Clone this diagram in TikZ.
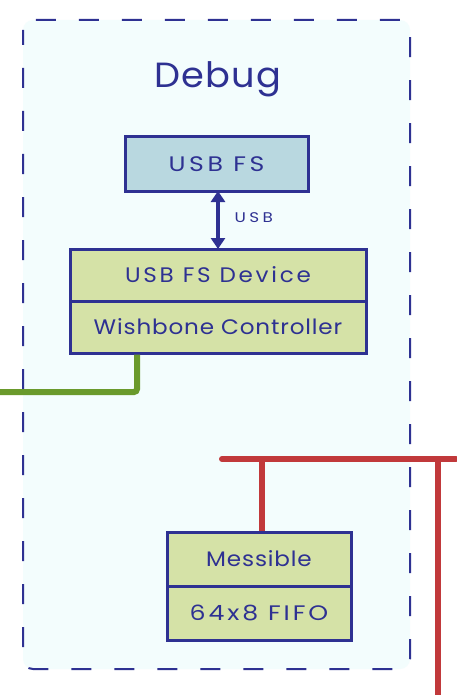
\documentclass[tikz,border=0pt]{standalone}
\usepackage{fontspec}
\setmainfont{Poppins}
\usetikzlibrary{arrows.meta}
\definecolor{navy}{HTML}{2E3192}
\definecolor{bgcyan}{HTML}{F3FDFD}
\definecolor{usbblue}{HTML}{B9D8E0}
\definecolor{blkgreen}{HTML}{D5E2A7}
\definecolor{wiregreen}{HTML}{6A9A2C}
\definecolor{wirered}{HTML}{C1393B}
\newcommand{\fsls}[2]{\addfontfeatures{FakeStretch=#1,LetterSpace=#2}}
\tikzset{
  blk/.style={draw=navy, line width=3pt, text=navy, inner sep=0pt, font=\fontsize{21}{24}\selectfont},
  greenblk/.style={blk, fill=blkgreen},
  bluewire/.style={draw=navy, line width=4pt},
  gwire/.style={draw=wiregreen, line width=6pt, rounded corners=3pt},
  rwire/.style={draw=wirered, line width=6pt},
}
\begin{document}
\begin{tikzpicture}[x=1pt,y=-1pt]
\useasboundingbox[fill=white] (0,0) rectangle (456,695);
\draw[navy, line width=2pt, fill=bgcyan, rounded corners=10pt, dash pattern=on 20pt off 23pt, dash phase=5pt] (23,20) rectangle (410,669);
\node[text=navy, font=\fontsize{35}{40}\selectfont, anchor=base] (title) at (218,88) {\fsls{1.05}{3}Debug};
\node[blk, fill=usbblue, minimum width=183pt, minimum height=54pt] (usb) at (216.5,164) {\fsls{1.2}{17}USB FS};
\node[greenblk, minimum width=296pt, minimum height=52pt] (dev) at (218,275) {\fsls{1.1}{13}USB FS Device};
\node[greenblk, minimum width=296pt, minimum height=52pt] (wb) at (218,327) {\fsls{1.1}{4}Wishbone Controller};
\draw[bluewire, {Triangle[length=11pt,width=14pt]}-{Triangle[length=11pt,width=14pt]}, shorten <=-1.5pt, shorten >=-1.5pt] (usb.south -| 218,0) -- (dev.north -| 218,0);
\node[text=navy, font=\fontsize{14}{16}\selectfont, anchor=west] (usblbl) at (231,218) {\fsls{1.2}{25}USB};
\node[greenblk, minimum width=184pt, minimum height=54pt] (mess) at (259,559) {\fsls{1.1}{4}Messible};
\node[greenblk, minimum width=184pt, minimum height=54pt] (fifo) at (259,613) {\fsls{1.2}{14}64x8 FIFO};
\coordinate (gx) at (137,392);
\coordinate (gend) at (0,392);
\draw[gwire] (wb.south -| gx) -- (gx) -- (gend);
\coordinate (rl) at (222,459);
\coordinate (rr) at (456,459);
\coordinate (rj) at (438,459);
\coordinate (rb) at (438,695);
\coordinate (rm) at (262,459);
\draw[rwire, line cap=round] (rl) -- (rr);
\draw[rwire] (rj) -- (rb);
\draw[rwire] (mess.north -| rm) -- (rm);
\end{tikzpicture}
\end{document}
